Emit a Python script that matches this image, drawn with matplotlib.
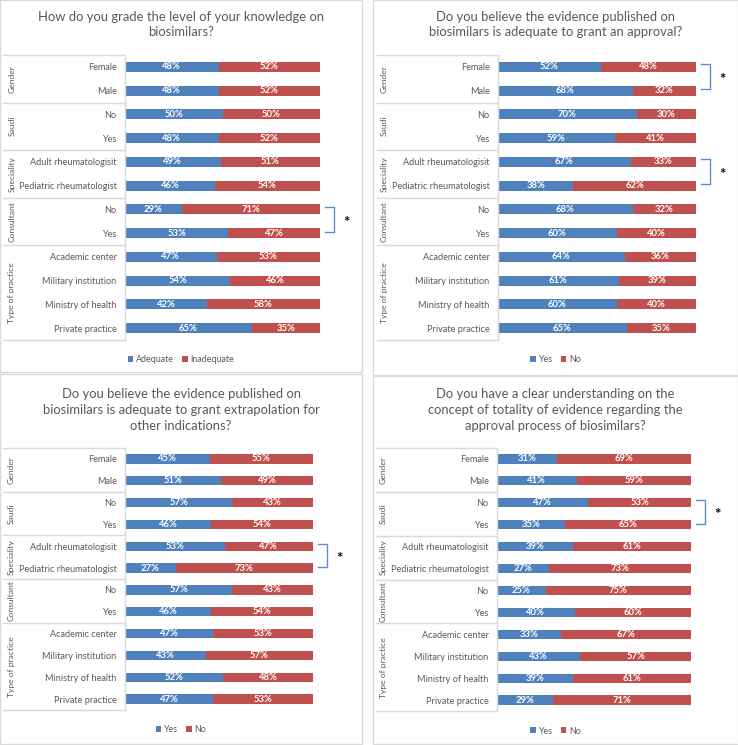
import matplotlib
matplotlib.use("Agg")
import matplotlib.pyplot as plt
from matplotlib.lines import Line2D
from matplotlib.patches import Rectangle
import matplotlib.transforms as mtransforms

plt.rcParams['font.family'] = ['Lato', 'DejaVu Sans']

categories = ["Female", "Male", "No", "Yes", "Adult rheumatologisit",
              "Pediatric rheumatologist", "No", "Yes", "Academic center",
              "Military institution", "Ministry of health", "Private practice"]
groups = ["Gender", "Saudi", "Speciality", "Consultant", "Type of practice"]
group_sizes = [2, 2, 2, 2, 4]

titles = [
    "How do you grade the level of your knowledge on\nbiosimilars?",
    "Do you believe the evidence published on\nbiosimilars is adequate to grant an approval?",
    "Do you believe the evidence published on\nbiosimilars is adequate to grant extrapolation for\nother indications?",
    "Do you have a clear understanding on the\nconcept of totality of evidence regarding the\napproval process of biosimilars?",
]
series_names = [("Adequate", "Inadequate"), ("Yes", "No"), ("Yes", "No"), ("Yes", "No")]

p1_first = [48, 48, 50, 48, 49, 46, 29, 53, 47, 54, 42, 65]
p1_second = [52, 52, 50, 52, 51, 54, 71, 47, 53, 46, 58, 35]
p2_first = [52, 68, 70, 59, 67, 38, 68, 60, 64, 61, 60, 65]
p2_second = [48, 32, 30, 41, 33, 62, 32, 40, 36, 39, 40, 35]
p3_first = [45, 51, 57, 46, 53, 27, 57, 46, 47, 43, 52, 47]
p3_second = [55, 49, 43, 54, 47, 73, 43, 54, 53, 57, 48, 53]
p4_first = [31, 41, 47, 35, 39, 27, 25, 40, 33, 43, 39, 29]
p4_second = [69, 59, 53, 65, 61, 73, 75, 60, 67, 57, 61, 71]

first_vals = [p1_first, p2_first, p3_first, p4_first]
second_vals = [p1_second, p2_second, p3_second, p4_second]
significant_pairs = [[6], [0, 4], [4], [2]]

BLUE = "#4F81BD"
RED = "#C0504D"
GRAY_TXT = "#595959"
LINE = "#D9D9D9"

W, H = 738, 745
fig = plt.figure(figsize=(W / 100, H / 100), dpi=100)


def fx(px):
    return px / W


def fy(py):
    return 1 - py / H


# panel layout (pixels)
panels = [
    dict(box=(0, 0, 362, 372), ax=(125, 55, 320, 340), sep=3, glab=12, title_y=24.5, leg_y=360),
    dict(box=(373, 0, 738, 375), ax=(498, 55, 696, 340), sep=377, glab=384, title_y=24.5, leg_y=360),
    dict(box=(0, 374, 362, 744), ax=(125, 448, 313, 710), sep=3, glab=11, title_y=410, leg_y=730),
    dict(box=(373, 376, 738, 744), ax=(497, 448, 691, 711), sep=376, glab=383, title_y=410, leg_y=731),
]

for k, p in enumerate(panels):
    bx0, by0, bx1, by1 = p["box"]
    fig.add_artist(Rectangle((fx(bx0), fy(by1)), fx(bx1) - fx(bx0), fy(by0) - fy(by1),
                             transform=fig.transFigure, fill=False, edgecolor=LINE, lw=1.0))
    x0, y0, x1, y1 = p["ax"]
    ax = fig.add_axes([fx(x0), fy(y1), fx(x1) - fx(x0), fy(y0) - fy(y1)])
    n = len(categories)
    a = [v / 100 for v in first_vals[k]]
    b = [v / 100 for v in second_vals[k]]
    ypos = list(range(n))
    h1 = ax.barh(ypos, a, height=0.42, color=BLUE, label=series_names[k][0])
    h2 = ax.barh(ypos, b, left=a, height=0.42, color=RED, label=series_names[k][1])
    for i in range(n):
        ax.text(a[i] / 2, i, f"{first_vals[k][i]}%", ha="center", va="center",
                color="white", fontsize=6.8, fontweight="bold")
        ax.text(a[i] + b[i] / 2, i, f"{second_vals[k][i]}%", ha="center", va="center",
                color="white", fontsize=6.8, fontweight="bold")
    ax.set_xlim(0, 1)
    ax.set_ylim(n - 0.5, -0.5)
    ax.set_yticks(ypos, categories)
    ax.tick_params(axis="y", length=0, pad=6, labelsize=6.6, labelcolor=GRAY_TXT)
    ax.set_xticks([])
    for s in ["top", "right", "bottom"]:
        ax.spines[s].set_visible(False)
    ax.spines["left"].set_color(LINE)
    ax.spines["left"].set_linewidth(1.0)

    trans = mtransforms.blended_transform_factory(ax.transAxes, ax.transData)
    ax_w_px = x1 - x0
    sep_ax = (p["sep"] - x0) / ax_w_px
    glab_ax = (p["glab"] - x0) / ax_w_px
    start = 0
    bounds = [-0.5]
    for g, sz in zip(groups, group_sizes):
        end = start + sz
        bounds.append(end - 0.5)
        ax.text(glab_ax, (start + end - 1) / 2, g, rotation=90, ha="center", va="center",
                transform=trans, fontsize=6.1, color=GRAY_TXT)
        start = end
    for yb in bounds:
        ax.add_line(Line2D([sep_ax, 0], [yb, yb], transform=trans, color=LINE, lw=1.0, clip_on=False))

    # significance brackets
    for r in significant_pairs[k]:
        bx = 1 + 14 / ax_w_px
        stub = 9 / ax_w_px
        ytop, ybot = r - 0.12, r + 1 - 0.05
        ax.add_line(Line2D([bx - stub, bx, bx, bx - stub], [ytop, ytop, ybot, ybot],
                           transform=trans, color="#5B8FD0", lw=1.0, clip_on=False))
        ax.text(bx + 12 / ax_w_px, (ytop + ybot) / 2 + 0.15, "*", transform=trans,
                ha="center", va="center", fontsize=11, fontweight="bold", color="black")

    # title
    cx = (bx0 + bx1) / 2
    fig.text(fx(cx), fy(p["title_y"]), titles[k], ha="center", va="center",
             fontsize=9.4, color=GRAY_TXT, linespacing=1.38)

    # legend
    fig.legend(handles=[h1, h2], loc="center", bbox_to_anchor=(fx(cx), fy(p["leg_y"])),
               ncol=2, frameon=False, fontsize=6.4, handlelength=0.65, handleheight=0.65,
               handletextpad=0.3, columnspacing=0.9, labelcolor=GRAY_TXT)

fig.savefig("out.png", dpi=100, facecolor="white")
